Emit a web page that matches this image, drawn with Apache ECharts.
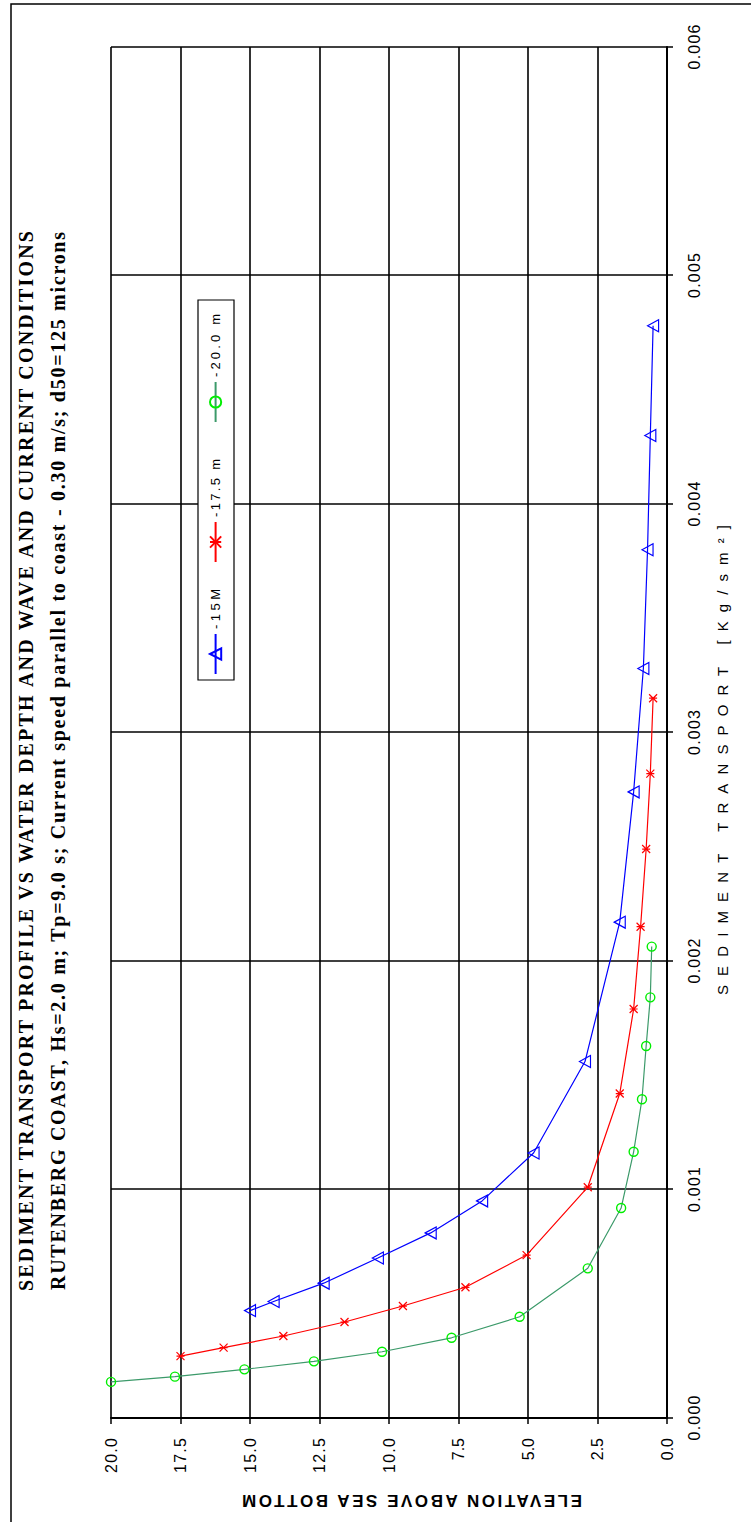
<!DOCTYPE html>
<html>
<head>
<meta charset="utf-8">
<script src="https://cdn.jsdelivr.net/npm/echarts@6/dist/echarts.min.js"></script>
<style>
html,body{margin:0;padding:0;background:#fff;overflow:hidden;width:751px;height:1522px}
#wrap{position:absolute;left:0;top:0;width:1522px;height:751px;transform-origin:0 0;transform:translate(0px,1522px) rotate(-90deg);}
#chart{width:1522px;height:751px;background:#fff}
</style>
</head>
<body>
<div id="wrap"><div id="chart"></div></div>
<script>
// ---- texts ----
const titleLine1 = 'SEDIMENT TRANSPORT PROFILE VS WATER DEPTH AND WAVE AND CURRENT CONDITIONS';
const titleLine2 = 'RUTENBERG COAST, Hs=2.0 m; Tp=9.0 s; Current speed parallel to coast - 0.30 m/s; d50=125 microns';
const xAxisName = 'SEDIMENT TRANSPORT [Kg/sm\u00B2]';
const yAxisName = 'ELEVATION ABOVE SEA BOTTOM';
const seriesNames = ['-15M', '-17.5 m', '-20.0 m'];

// ---- tick labels ----
const transportTicks = [0, 0.001, 0.002, 0.003, 0.004, 0.005, 0.006];
const elevationTicks = [0, 2.5, 5, 7.5, 10, 12.5, 15, 17.5, 20];

// ---- series values (x = sediment transport, y = elevation) ----
const transport15 = [0.00047, 0.00051, 0.00059, 0.00070, 0.00081, 0.00095, 0.00116, 0.00156, 0.00217, 0.00274, 0.00328, 0.00380, 0.00430, 0.00478];
const elevation15 = [15.0, 14.15, 12.35, 10.4, 8.5, 6.65, 4.8, 2.95, 1.7, 1.2, 0.85, 0.7, 0.6, 0.5];

const transport175 = [0.000271, 0.000308, 0.000359, 0.00042, 0.00049, 0.000572, 0.000713, 0.00101, 0.00142, 0.00179, 0.00215, 0.00249, 0.00282, 0.00315];
const elevation175 = [17.5, 15.95, 13.8, 11.6, 9.5, 7.25, 5.05, 2.85, 1.7, 1.2, 0.95, 0.75, 0.6, 0.5];

const transport20 = [0.000158, 0.000181, 0.000213, 0.000248, 0.00029, 0.000351, 0.000443, 0.000655, 0.000919, 0.001165, 0.001395, 0.001628, 0.001841, 0.002063];
const elevation20 = [20.0, 17.7, 15.2, 12.7, 10.25, 7.75, 5.3, 2.85, 1.65, 1.2, 0.9, 0.75, 0.6, 0.55];

// ---- styles ----
const SANS = 'Liberation Sans';
const SERIF = 'Liberation Serif';
const TRI = 'path://M5,0L10,9L0,9Z';
const STAR = 'path://M0,0L10,10M0,10L10,0M5,0L5,10';
const CIRC = 'path://M0,5A5,5,0,1,1,10,5A5,5,0,1,1,0,5Z';
const LEGEND_LEFTS = [847, 959, 1099];

function pairs(xs, ys) { return xs.map((x, i) => [x, ys[i]]); }

const chart = echarts.init(document.getElementById('chart'), null, {renderer: 'svg'});

const legends = seriesNames.map((name, i) => ({
  data: [name],
  left: LEGEND_LEFTS[i], top: 209, orient: 'horizontal',
  padding: 0, itemWidth: 40, itemHeight: 14,
  selectedMode: false, z: 5,
  textStyle: {fontFamily: SANS, fontSize: 13, color: '#000'}
}));

const option = {
  animation: false,
  backgroundColor: '#fff',
  title: {
    text: titleLine1,
    subtext: titleLine2,
    left: 'center',
    top: 16,
    padding: 0,
    itemGap: 12,
    textStyle: {fontFamily: SERIF, fontWeight: 'bold', fontSize: 20, color: '#000'},
    subtextStyle: {fontFamily: SERIF, fontWeight: 'bold', fontSize: 20, color: '#000'}
  },
  legend: legends,
  grid: {left: 104, right: 47, top: 111, bottom: 84, containLabel: false, outerBoundsMode: 'none'},
  xAxis: {
    type: 'value',
    min: transportTicks[0],
    max: transportTicks[transportTicks.length - 1],
    interval: transportTicks[1] - transportTicks[0],
    position: 'bottom',
    axisLine: {show: true, onZero: false, lineStyle: {color: '#000', width: 2}},
    axisTick: {show: true, inside: false, length: 6, lineStyle: {color: '#000', width: 1.5}},
    axisLabel: {margin: 19, color: '#000', fontFamily: SANS, fontSize: 16, showMinLabel: true, showMaxLabel: true,
      formatter: v => v.toFixed(3)},
    splitLine: {show: true, lineStyle: {color: '#000', width: 1.6}}
  },
  yAxis: {
    type: 'value',
    min: elevationTicks[0],
    max: elevationTicks[elevationTicks.length - 1],
    interval: elevationTicks[1] - elevationTicks[0],
    axisLine: {show: true, onZero: false, lineStyle: {color: '#000', width: 2}},
    axisTick: {show: true, inside: false, length: 6, lineStyle: {color: '#000', width: 1.5}},
    axisLabel: {margin: 20, color: '#000', fontFamily: SANS, fontSize: 16, showMinLabel: true, showMaxLabel: true,
      formatter: v => v.toFixed(1)},
    splitLine: {show: true, lineStyle: {color: '#000', width: 1.6}}
  },
  graphic: [
    {type: 'rect', shape: {x: -10, y: 11, width: 1528, height: 760}, style: {fill: 'none', stroke: '#000', lineWidth: 1.5}, silent: true},
    {type: 'rect', z: 4, shape: {x: 842, y: 198, width: 380, height: 36}, style: {fill: '#fff', stroke: '#000', lineWidth: 1.2}, silent: true},
    {type: 'text', x: 762, y: 722, silent: true,
     style: {text: xAxisName, font: '15px "Liberation Sans"', fill: '#000', textAlign: 'center', textVerticalAlign: 'middle', align: 'center', verticalAlign: 'middle'}},
    {type: 'text', x: 22, y: 412, rotation: Math.PI / 2, silent: true,
     style: {text: yAxisName, font: 'bold 17px "Liberation Sans"', fill: '#000', textAlign: 'center', textVerticalAlign: 'middle', align: 'center', verticalAlign: 'middle'}}
  ],
  series: [
    {name: seriesNames[0], type: 'line', data: pairs(transport15, elevation15),
     symbol: TRI, symbolSize: [12, 11],
     lineStyle: {color: '#0000ff', width: 1.2},
     itemStyle: {color: 'transparent', borderColor: '#0000ff', borderWidth: 1.2},
     emphasis: {disabled: true}},
    {name: seriesNames[1], type: 'line', data: pairs(transport175, elevation175),
     symbol: STAR, symbolSize: 8,
     lineStyle: {color: '#ff0000', width: 1.2},
     itemStyle: {color: 'transparent', borderColor: '#ff0000', borderWidth: 1.2},
     emphasis: {disabled: true}},
    {name: seriesNames[2], type: 'line', data: pairs(transport20, elevation20),
     symbol: CIRC, symbolSize: 9,
     lineStyle: {color: '#3c9a6a', width: 1.2},
     itemStyle: {color: 'transparent', borderColor: '#00ee00', borderWidth: 1.4},
     emphasis: {disabled: true}}
  ]
};

chart.setOption(option);

// Stretch the letter spacing of the texts like the reference's widely spaced lettering
const TEXT_LENGTHS = {};
TEXT_LENGTHS[titleLine1] = 1060;
TEXT_LENGTHS[titleLine2] = 1058;
TEXT_LENGTHS[xAxisName] = 470;
TEXT_LENGTHS[yAxisName] = 340;
TEXT_LENGTHS[seriesNames[0]] = 40;
TEXT_LENGTHS[seriesNames[1]] = 58;
TEXT_LENGTHS[seriesNames[2]] = 63;

function applyLengths() {
  document.querySelectorAll('#chart svg text').forEach(t => {
    const s = t.textContent;
    let L = TEXT_LENGTHS[s];
    if (L == null && /^0\.00\d$/.test(s)) L = 45;
    if (L == null && /^\d\d\.\d$/.test(s)) L = 35;
    if (L) { t.setAttribute('textLength', L); t.setAttribute('lengthAdjust', 'spacing'); }
  });
}
chart.on('finished', applyLengths);
applyLengths();
setTimeout(applyLengths, 50);
setTimeout(applyLengths, 300);
</script>
</body>
</html>
